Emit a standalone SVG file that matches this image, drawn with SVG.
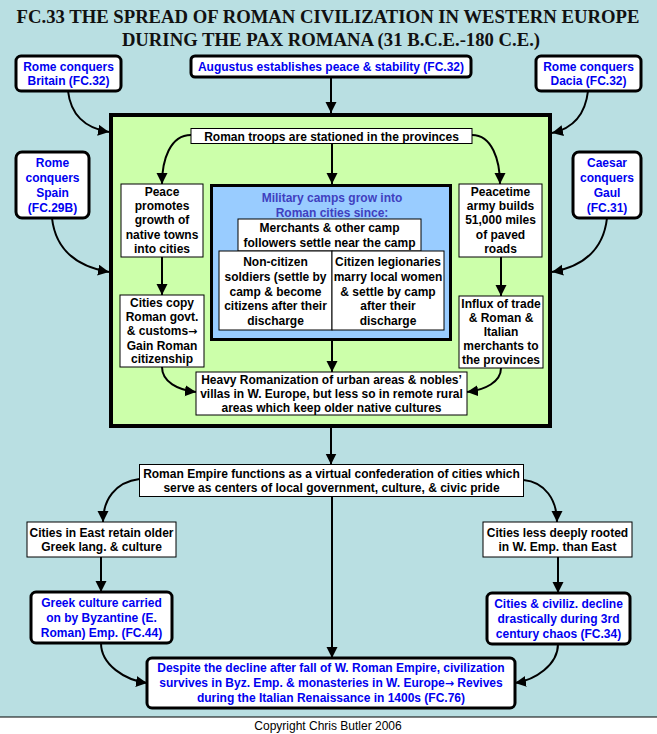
<svg xmlns="http://www.w3.org/2000/svg" width="657" height="734" viewBox="0 0 657 734">
<style>
.t{font-family:"Liberation Sans",Arial,sans-serif;font-weight:bold;font-size:12px;text-anchor:middle;fill:#000}
.b{fill:#0000F0}
.m{fill:#4040C0}
.ar{font-family:"DejaVu Sans",sans-serif;font-weight:bold;font-size:11px}
.box{fill:#fff;stroke:#000;stroke-width:1}
.rbox{fill:#fff;stroke:#000;stroke-width:3}
.title{font-family:"Liberation Serif","Times New Roman",serif;font-weight:bold;font-size:18.7px;text-anchor:middle;fill:#111}
.c{fill:none;stroke:#000;stroke-width:2}
</style>
<defs>
<marker id="ah" markerUnits="userSpaceOnUse" markerWidth="12" markerHeight="12" refX="11" refY="5.5" orient="auto">
<path d="M0,0 L11,5.5 L0,11 z" fill="#000"/>
</marker>
</defs>
<rect x="0" y="0" width="657" height="734" fill="#B9DFE2"/>
<rect x="0" y="717" width="657" height="17" fill="#fff"/>
<line x1="0" y1="717" x2="657" y2="717" stroke="#000" stroke-width="1"/>
<text x="328" y="730" style="font-family:'Liberation Sans',Arial,sans-serif;font-size:12px;text-anchor:middle">Copyright Chris Butler 2006</text>

<g id="title">
<text class="title" x="328" y="23">FC.33 THE SPREAD OF ROMAN CIVILIZATION IN WESTERN EUROPE</text>
<text class="title" x="331" y="46">DURING THE PAX ROMANA (31 B.C.E.-180 C.E.)</text>
</g>

<g id="green-panel"><rect x="111" y="115" width="439" height="311" fill="#CCFFAA" stroke="#000" stroke-width="4"/></g>

<g id="britain"><rect class="rbox" x="16" y="56" width="105" height="35" rx="5"/>
<text class="t b" x="68.5" y="71">Rome conquers</text><text class="t b" x="68.5" y="85">Britain (FC.32)</text></g>
<g id="augustus"><rect class="rbox" x="191" y="56" width="280" height="21" rx="4"/>
<text class="t b" x="331" y="71">Augustus establishes peace &amp; stability (FC.32)</text></g>
<g id="dacia"><rect class="rbox" x="536" y="56" width="105" height="35" rx="5"/>
<text class="t b" x="588.5" y="71">Rome conquers</text><text class="t b" x="588.5" y="85">Dacia (FC.32)</text></g>
<g id="spain"><rect class="rbox" x="16" y="152" width="73" height="66" rx="6"/>
<text class="t b" x="52.5" y="167">Rome</text><text class="t b" x="52.5" y="182">conquers</text><text class="t b" x="52.5" y="197">Spain</text><text class="t b" x="52.5" y="212">(FC.29B)</text></g>
<g id="gaul"><rect class="rbox" x="573" y="152" width="68" height="66" rx="6"/>
<text class="t b" x="607" y="167">Caesar</text><text class="t b" x="607" y="182">conquers</text><text class="t b" x="607" y="197">Gaul</text><text class="t b" x="607" y="212">(FC.31)</text></g>

<g id="troops"><rect class="box" x="191" y="128.5" width="281" height="15"/>
<text class="t" x="331.5" y="140.5">Roman troops are stationed in the provinces</text></g>
<g id="peace"><rect class="box" x="121" y="184" width="82" height="73"/>
<text class="t" x="162" y="196">Peace</text><text class="t" x="162" y="210">promotes</text><text class="t" x="162" y="224">growth of</text><text class="t" x="162" y="238.5">native towns</text><text class="t" x="162" y="252.5">into cities</text></g>
<g id="cities-copy"><rect class="box" x="120" y="295" width="84" height="72"/>
<text class="t" x="162" y="307">Cities copy</text><text class="t" x="162" y="321">Roman govt.</text><text class="t" x="162" y="335">&amp; customs<tspan class="ar">→</tspan></text><text class="t" x="162" y="349.5">Gain Roman</text><text class="t" x="162" y="363">citizenship</text></g>

<g id="camps"><rect x="211.5" y="185.5" width="239" height="154" fill="#99CCFF" stroke="#000" stroke-width="3"/>
<text class="t m" x="332" y="202">Military camps grow into</text><text class="t m" x="332" y="217">Roman cities since:</text></g>
<g id="merchants"><rect class="box" x="238" y="219" width="183" height="32"/>
<text class="t" x="329.5" y="232">Merchants &amp; other camp</text><text class="t" x="329.5" y="247">followers settle near the camp</text></g>
<g id="noncitizen"><rect class="box" x="219" y="251" width="113" height="79"/>
<text class="t" x="275.5" y="266">Non-citizen</text><text class="t" x="275.5" y="281">soldiers (settle by</text><text class="t" x="275.5" y="295.5">camp &amp; become</text><text class="t" x="275.5" y="310">citizens after their</text><text class="t" x="275.5" y="324.5">discharge</text></g>
<g id="citizen"><rect class="box" x="332" y="251" width="112" height="79"/>
<text class="t" x="388" y="266">Citizen legionaries</text><text class="t" x="388" y="281">marry local women</text><text class="t" x="388" y="295.5">&amp; settle by camp</text><text class="t" x="388" y="310">after their</text><text class="t" x="388" y="324.5">discharge</text></g>

<g id="peacetime"><rect class="box" x="459" y="184" width="83" height="73"/>
<text class="t" x="500.5" y="196">Peacetime</text><text class="t" x="500.5" y="210">army builds</text><text class="t" x="500.5" y="224">51,000 miles</text><text class="t" x="500.5" y="238.5">of paved</text><text class="t" x="500.5" y="252.5">roads</text></g>
<g id="influx"><rect class="box" x="459" y="296" width="84" height="72"/>
<text class="t" x="501" y="307.5">Influx of trade</text><text class="t" x="501" y="321.5">&amp; Roman &amp;</text><text class="t" x="501" y="336">Italian</text><text class="t" x="501" y="350">merchants to</text><text class="t" x="501" y="364">the provinces</text></g>

<g id="heavy"><rect class="box" x="196" y="372" width="271" height="43"/>
<text class="t" x="331.5" y="383.5">Heavy Romanization of urban areas &amp; nobles’</text><text class="t" x="331.5" y="397.5">villas in W. Europe, but less so in remote rural</text><text class="t" x="331.5" y="412">areas which keep older native cultures</text></g>

<g id="empire"><rect class="box" x="139.5" y="464.5" width="384" height="32"/>
<text class="t" x="331.5" y="477.5">Roman Empire functions as a virtual confederation of cities which</text><text class="t" x="331.5" y="492">serve as centers of local government, culture, &amp; civic pride</text></g>
<g id="east"><rect class="box" x="27" y="522" width="149" height="35"/>
<text class="t" x="101.5" y="537">Cities in East retain older</text><text class="t" x="101.5" y="551">Greek lang. &amp; culture</text></g>
<g id="west"><rect class="box" x="483" y="522" width="149" height="35"/>
<text class="t" x="557.5" y="537">Cities less deeply rooted</text><text class="t" x="557.5" y="551">in W. Emp. than East</text></g>
<g id="greek"><rect class="rbox" x="31" y="592" width="141" height="51" rx="5"/>
<text class="t b" x="101.5" y="607">Greek culture carried</text><text class="t b" x="101.5" y="622">on by Byzantine (E.</text><text class="t b" x="101.5" y="636.5">Roman) Emp. (FC.44)</text></g>
<g id="decline"><rect class="rbox" x="487" y="593" width="143" height="51" rx="5"/>
<text class="t b" x="558.5" y="608">Cities &amp; civiliz. decline</text><text class="t b" x="558.5" y="623">drastically during 3rd</text><text class="t b" x="558.5" y="637.5">century chaos (FC.34)</text></g>
<g id="despite"><rect class="rbox" x="147" y="658" width="368" height="50" rx="5"/>
<text class="t b" x="331" y="672">Despite the decline after fall of W. Roman Empire, civilization</text><text class="t b" x="331" y="687">survives in Byz. Emp. &amp; monasteries in W. Europe<tspan class="ar">→</tspan> Revives</text><text class="t b" x="331" y="701.5">during the Italian Renaissance in 1400s (FC.76)</text></g>

<g id="connectors">
<path class="c" marker-end="url(#ah)" d="M68,91 Q72,126 109,132"/>
<path class="c" marker-end="url(#ah)" d="M52,218 Q57,263 109,272"/>
<path class="c" marker-end="url(#ah)" d="M588,91 Q584,126 552,133"/>
<path class="c" marker-end="url(#ah)" d="M607,218 Q602,263 552,272"/>
<path class="c" marker-end="url(#ah)" d="M331,77 L331,113"/>
<path class="c" marker-end="url(#ah)" d="M191,135 C170,135 162,160 162,184"/>
<path class="c" marker-end="url(#ah)" d="M472,135 C492,135 500,160 500,184"/>
<path class="c" marker-end="url(#ah)" d="M332,143.5 L332,184"/>
<path class="c" marker-end="url(#ah)" d="M162,257 L162,295"/>
<path class="c" marker-end="url(#ah)" d="M501,257 L501,296"/>
<path class="c" marker-end="url(#ah)" d="M332,341 L332,372"/>
<path class="c" marker-end="url(#ah)" d="M162,367 C162,382 178,390 196,392"/>
<path class="c" marker-end="url(#ah)" d="M501,368 C501,382 485,390 467,392"/>
<path class="c" marker-end="url(#ah)" d="M331,428 L331,464.5"/>
<path class="c" marker-end="url(#ah)" d="M139.5,479 C115,482 103,500 103,522"/>
<path class="c" marker-end="url(#ah)" d="M523.5,480 C545,482 557,500 557,522"/>
<path class="c" marker-end="url(#ah)" d="M101,557 L101,592"/>
<path class="c" marker-end="url(#ah)" d="M558,557 L558,593"/>
<path class="c" marker-end="url(#ah)" d="M332,496.5 L332,658"/>
<path class="c" marker-end="url(#ah)" d="M101,643 C101,665 125,680 147,683"/>
<path class="c" marker-end="url(#ah)" d="M558,644 C558,665 535,680 515,683"/>
</g>
</svg>
